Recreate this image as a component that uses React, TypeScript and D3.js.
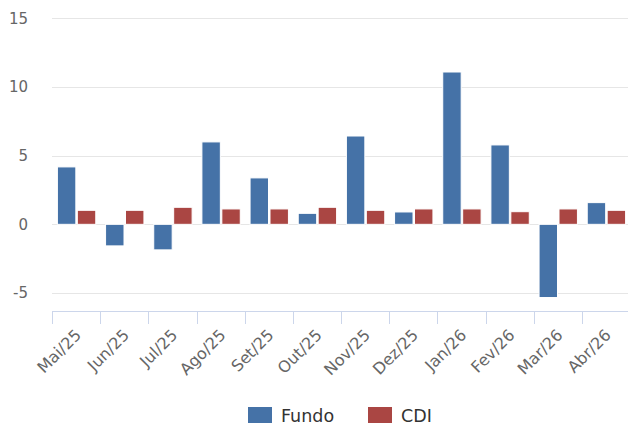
import React from 'react';
import * as d3 from 'd3';

// monthly returns (%)
const months = ['Mai/25', 'Jun/25', 'Jul/25', 'Ago/25', 'Set/25', 'Out/25', 'Nov/25', 'Dez/25', 'Jan/26', 'Fev/26', 'Mar/26', 'Abr/26'];
const fundo = [4.18, -1.57, -1.86, 6.0, 3.38, 0.8, 6.43, 0.9, 11.09, 5.78, -5.33, 1.58];
const cdi = [1.02, 1.02, 1.24, 1.12, 1.12, 1.24, 1.02, 1.12, 1.12, 0.92, 1.12, 1.02];
const seriesNames = ['Fundo', 'CDI'];
const seriesColors = ['#4572A7', '#AA4643'];
const yTicks = [-5, 0, 5, 10, 15];

const W = 628;
const H = 428;
const font = '"DejaVu Sans", Verdana, sans-serif';

export default function App() {
  const left = 52;
  const right = 630; // plot runs slightly past the canvas edge
  const axisY = 311;

  const x = d3.scaleBand().domain(months).range([left, right]).paddingInner(0).paddingOuter(0);
  const bw = x.bandwidth();
  const inner = d3.scaleBand().domain(seriesNames).range([5.4, bw - 4.4]).paddingInner(0.075).paddingOuter(0);
  const y = d3.scaleLinear().domain([-5, 15]).range([293, 18.3]);

  const rows = months.map((m, i) => ({ m, vals: [fundo[i], cdi[i]] }));

  return (
    <div style={{ position: 'fixed', left: 0, top: 0, width: W, height: H, overflow: 'hidden' }}>
      <svg width={W} height={H} style={{ display: 'block', fontFamily: font }}>
        <rect width={W} height={H} fill="#fff" />
        {/* grid */}
        {yTicks.map(t => (
          <g key={t}>
            <line x1={left} x2={right} y1={Math.round(y(t)) + 0.5} y2={Math.round(y(t)) + 0.5} stroke="#e6e6e6" strokeWidth={1} />
            <text x={28} y={y(t)} dy="0.35em" textAnchor="end" fontSize={15} fill="#666">{t}</text>
          </g>
        ))}
        {/* bars */}
        {rows.map(r => (
          <g key={r.m} transform={`translate(${x(r.m)},0)`}>
            {r.vals.map((v, j) => (
              <rect
                key={j}
                x={inner(seriesNames[j])}
                width={inner.bandwidth()}
                y={Math.min(y(v), y(0))}
                height={Math.abs(y(v) - y(0))}
                fill={seriesColors[j]}
                stroke="#fff"
                strokeWidth={1}
              />
            ))}
          </g>
        ))}
        {/* x axis */}
        <line x1={left} x2={right} y1={axisY + 0.5} y2={axisY + 0.5} stroke="#ccd6eb" />
        {d3.range(months.length).map(i => {
          const tx = Math.round(left + i * x.step()) + 0.5;
          return <line key={i} x1={tx} x2={tx} y1={axisY} y2={axisY + 13} stroke="#ccd6eb" />;
        })}
        {months.map(m => {
          const cx = (x(m) as number) + bw / 2;
          return (
            <text key={m} transform={`translate(${cx + 6},${336}) rotate(-45)`} textAnchor="end" fontSize={16} fill="#666">
              {m}
            </text>
          );
        })}
        {/* legend */}
        {seriesNames.map((s, i) => {
          const lx = 248 + i * 120;
          return (
            <g key={s}>
              <rect x={lx} y={407} width={24} height={16} fill={seriesColors[i]} />
              <text x={lx + 33} y={421.5} fontSize={17.5} fill="#333">{s}</text>
            </g>
          );
        })}
      </svg>
    </div>
  );
}
